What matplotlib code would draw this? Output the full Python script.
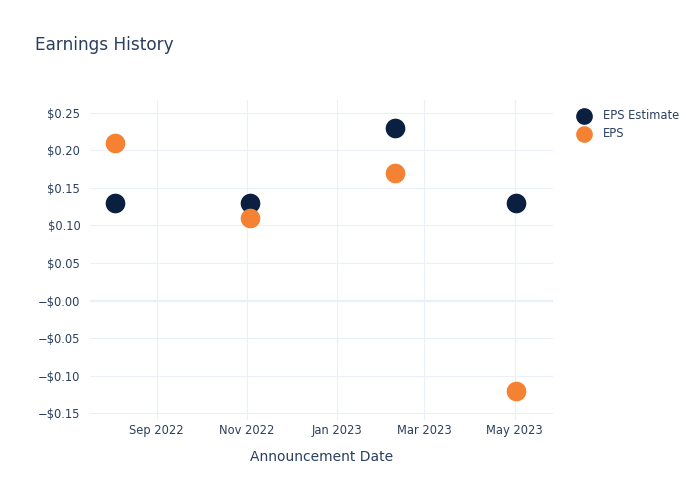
import datetime as dt

import matplotlib.pyplot as plt
import matplotlib.dates as mdates
from matplotlib.ticker import FuncFormatter

dates = [dt.date(2022, 8, 4), dt.date(2022, 11, 3), dt.date(2023, 2, 9), dt.date(2023, 5, 2)]
eps_estimate = [0.13, 0.13, 0.23, 0.13]
eps_actual = [0.21, 0.11, 0.17, -0.12]

y_ticks = [-0.15, -0.10, -0.05, 0.0, 0.05, 0.10, 0.15, 0.20, 0.25]
x_ticks = [dt.date(2022, 9, 1), dt.date(2022, 11, 1), dt.date(2023, 1, 1),
           dt.date(2023, 3, 1), dt.date(2023, 5, 1)]

text_color = "#2a3f5f"
grid_color = "#ebf0f8"

fig = plt.figure(figsize=(7, 5), dpi=100)
ax = fig.add_axes([0.1286, 0.16, 0.6614, 0.64])

ax.scatter(dates, eps_estimate, s=200, color="#0b1f40", label="EPS Estimate", zorder=3, linewidths=0)
ax.scatter(dates, eps_actual, s=200, color="#f58233", label="EPS", zorder=4, linewidths=0)

ax.set_xlim(dt.date(2022, 7, 18), dt.date(2023, 5, 27))
ax.set_ylim(-0.159, 0.267)

ax.set_yticks(y_ticks)


def money(v, _):
    sign = "\u2212" if v <= 0.00001 else ""
    return f"{sign}${abs(v):.2f}"


ax.yaxis.set_major_formatter(FuncFormatter(money))
ax.set_xticks(x_ticks)
ax.xaxis.set_major_formatter(mdates.DateFormatter("%b %Y"))

ax.grid(True, color=grid_color, linewidth=0.8, zorder=0)
ax.axhline(0, color=grid_color, linewidth=1.6, zorder=1)
for s in ax.spines.values():
    s.set_visible(False)
ax.tick_params(axis="y", length=0, labelsize=8.3, colors=text_color, pad=7)
ax.tick_params(axis="x", length=0, labelsize=8.3, colors=text_color, pad=3)

ax.set_xlabel("Announcement Date", fontsize=10, color=text_color, labelpad=9)
fig.text(0.05, 0.9, "Earnings History", fontsize=12.2, color=text_color)

leg = ax.legend(loc="upper left", bbox_to_anchor=(1.03, 0.99), frameon=False,
                fontsize=8.3, labelcolor=text_color, handletextpad=0.6,
                markerscale=0.85, borderaxespad=0.1, labelspacing=0.45)

fig.savefig("out.png", dpi=100)
